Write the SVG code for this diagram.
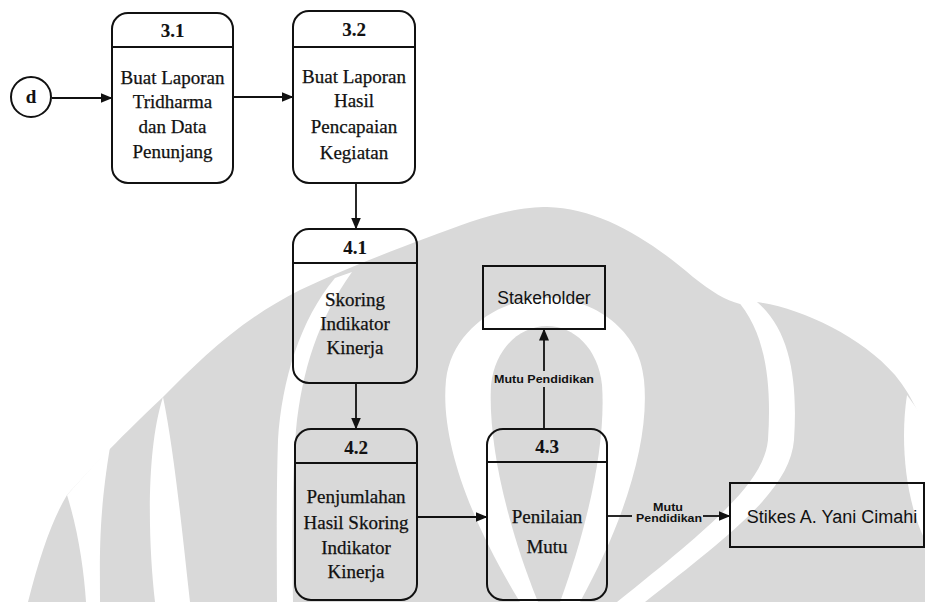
<svg xmlns="http://www.w3.org/2000/svg" width="925" height="602" viewBox="0 0 925 602">
  <defs>
    <marker id="arrow" markerUnits="userSpaceOnUse" markerWidth="12" markerHeight="10" viewBox="0 0 12 10" refX="11.5" refY="5" orient="auto">
      <path d="M0,0 L12,5 L0,10 Z" fill="#111"/>
    </marker>
    <style>
      .box { fill: none; stroke: #111; stroke-width: 2; }
      .line { fill: none; stroke: #111; stroke-width: 1.8; }
      .flow { fill: none; stroke: #111; stroke-width: 1.8; marker-end: url(#arrow); }
      .serif { font-family: "Liberation Serif", "Times New Roman", serif; font-size: 19px; fill: #111; stroke: #111; stroke-width: 0.25; text-anchor: middle; }
      .title { font-weight: bold; stroke-width: 0.1; }
      .sans { font-family: "Liberation Sans", Arial, sans-serif; fill: #111; text-anchor: middle; }
      .wm { fill: #d9d9d9; }
      .wmgap { fill: #ffffff; }
    </style>
  </defs>

  <rect width="925" height="602" fill="#ffffff"/>

  <!-- faint background emblem -->
  <g id="emblem">
    <path class="wm" d="M28,602 C40,555 52,520 67,495 C90,470 110,447 163,397 C200,360 240,320 300,290 C360,262 420,240 470,222 C505,210 530,207 547,207 C600,208 650,240 693,277 C712,292 725,300 740,304 L757,302 C800,308 860,335 895,375 C915,400 925,425 925,441 L925,602 Z"/>
    <!-- outer left gap -->
    <path class="wmgap" d="M67,495 C78,530 84,570 86,602 L100,602 C100,560 98,520 110,447 Z"/>
    <!-- left crescent -->
    <path class="wmgap" d="M163,397 C146,450 148,540 155,602 L190,602 C182,530 174,450 163,397 Z"/>
    <!-- left wing gap -->
    <path class="wmgap" d="M335,278 C300,320 282,380 278,440 C276,500 277,560 277,602 L293,602 C292,540 292,480 296,430 C302,370 318,320 352,272 Z"/>
    <!-- right wing gap -->
    <path class="wmgap" d="M735,298 C765,330 772,380 768,440 C764,480 720,520 617,602 L645,602 C730,535 790,490 794,440 C798,380 790,330 757,302 Z"/>
    <!-- right crescent -->
    <path class="wmgap" d="M907,395 C900,440 905,500 925,540 L925,420 Z"/>
    <!-- inner ring -->
    <path class="wmgap" d="M520,602 C470,520 440,440 446,380 C452,330 500,298 547,298 C594,298 640,330 644,380 C650,440 625,520 580,602 Z"/>
    <path class="wm" d="M538,602 C505,520 488,440 491,385 C495,348 520,326 547,326 C574,326 598,348 602,385 C606,440 590,520 560,602 Z"/>
  </g>

  <!-- connectors -->
  <g id="connectors">
    <line class="flow" x1="52" y1="98" x2="112" y2="98"/>
    <line class="flow" x1="233" y1="97" x2="293" y2="97"/>
    <line class="flow" x1="356" y1="183" x2="356" y2="229"/>
    <line class="flow" x1="356" y1="383" x2="356" y2="429"/>
    <line class="flow" x1="417" y1="517" x2="487" y2="517"/>
    <line class="line" x1="544" y1="429" x2="544" y2="387"/>
    <line class="flow" x1="544" y1="371" x2="544" y2="329"/>
    <text class="sans" x="544" y="383" font-size="11.5" font-weight="bold" textLength="100" lengthAdjust="spacingAndGlyphs">Mutu Pendidikan</text>
    <line class="line" x1="607" y1="516" x2="632" y2="516"/>
    <line class="flow" x1="703" y1="516" x2="730" y2="516"/>
    <text class="sans" x="668" y="511" font-size="10" font-weight="bold" textLength="30" lengthAdjust="spacingAndGlyphs">Mutu</text>
    <text class="sans" x="669" y="522" font-size="10" font-weight="bold" textLength="66" lengthAdjust="spacingAndGlyphs">Pendidikan</text>
  </g>

  <!-- connector node d -->
  <g id="node-d">
    <circle cx="31" cy="97" r="20" fill="none" stroke="#111" stroke-width="2"/>
    <text class="serif title" x="31" y="103">d</text>
  </g>

  <g id="proc-3-1">
    <rect class="box" x="112" y="13" width="121" height="170" rx="16"/>
    <line class="line" x1="112" y1="47" x2="233" y2="47"/>
    <text class="serif title" x="172.5" y="37">3.1</text>
    <text class="serif" x="172.5" y="84">Buat Laporan</text>
    <text class="serif" x="172.5" y="108">Tridharma</text>
    <text class="serif" x="172.5" y="133">dan Data</text>
    <text class="serif" x="172.5" y="158">Penunjang</text>
  </g>

  <g id="proc-3-2">
    <rect class="box" x="293" y="11" width="122" height="172" rx="16"/>
    <line class="line" x1="293" y1="47" x2="415" y2="47"/>
    <text class="serif title" x="354" y="36">3.2</text>
    <text class="serif" x="354" y="83">Buat Laporan</text>
    <text class="serif" x="354" y="107">Hasil</text>
    <text class="serif" x="354" y="133">Pencapaian</text>
    <text class="serif" x="354" y="159">Kegiatan</text>
  </g>

  <g id="proc-4-1">
    <rect class="box" x="293" y="229" width="124" height="154" rx="16"/>
    <line class="line" x1="293" y1="263" x2="417" y2="263"/>
    <text class="serif title" x="355" y="254">4.1</text>
    <text class="serif" x="355" y="306">Skoring</text>
    <text class="serif" x="355" y="330">Indikator</text>
    <text class="serif" x="355" y="354">Kinerja</text>
  </g>

  <g id="proc-4-2">
    <rect class="box" x="295" y="429" width="122" height="171" rx="16"/>
    <line class="line" x1="295" y1="463" x2="417" y2="463"/>
    <text class="serif title" x="356" y="454">4.2</text>
    <text class="serif" x="356" y="503">Penjumlahan</text>
    <text class="serif" x="356" y="529">Hasil Skoring</text>
    <text class="serif" x="356" y="554">Indikator</text>
    <text class="serif" x="356" y="578">Kinerja</text>
  </g>

  <g id="proc-4-3">
    <rect class="box" x="487" y="429" width="120" height="171" rx="16"/>
    <line class="line" x1="487" y1="462" x2="607" y2="462"/>
    <text class="serif title" x="547" y="453">4.3</text>
    <text class="serif" x="547" y="523">Penilaian</text>
    <text class="serif" x="547" y="553">Mutu</text>
  </g>

  <g id="ext-stakeholder">
    <rect class="box" x="483" y="266" width="122" height="63"/>
    <text class="sans" x="544" y="304" font-size="17.5">Stakeholder</text>
  </g>

  <g id="ext-stikes">
    <rect class="box" x="730" y="483" width="194" height="64"/>
    <text class="sans" x="832" y="523" font-size="18">Stikes A. Yani Cimahi</text>
  </g>
</svg>
